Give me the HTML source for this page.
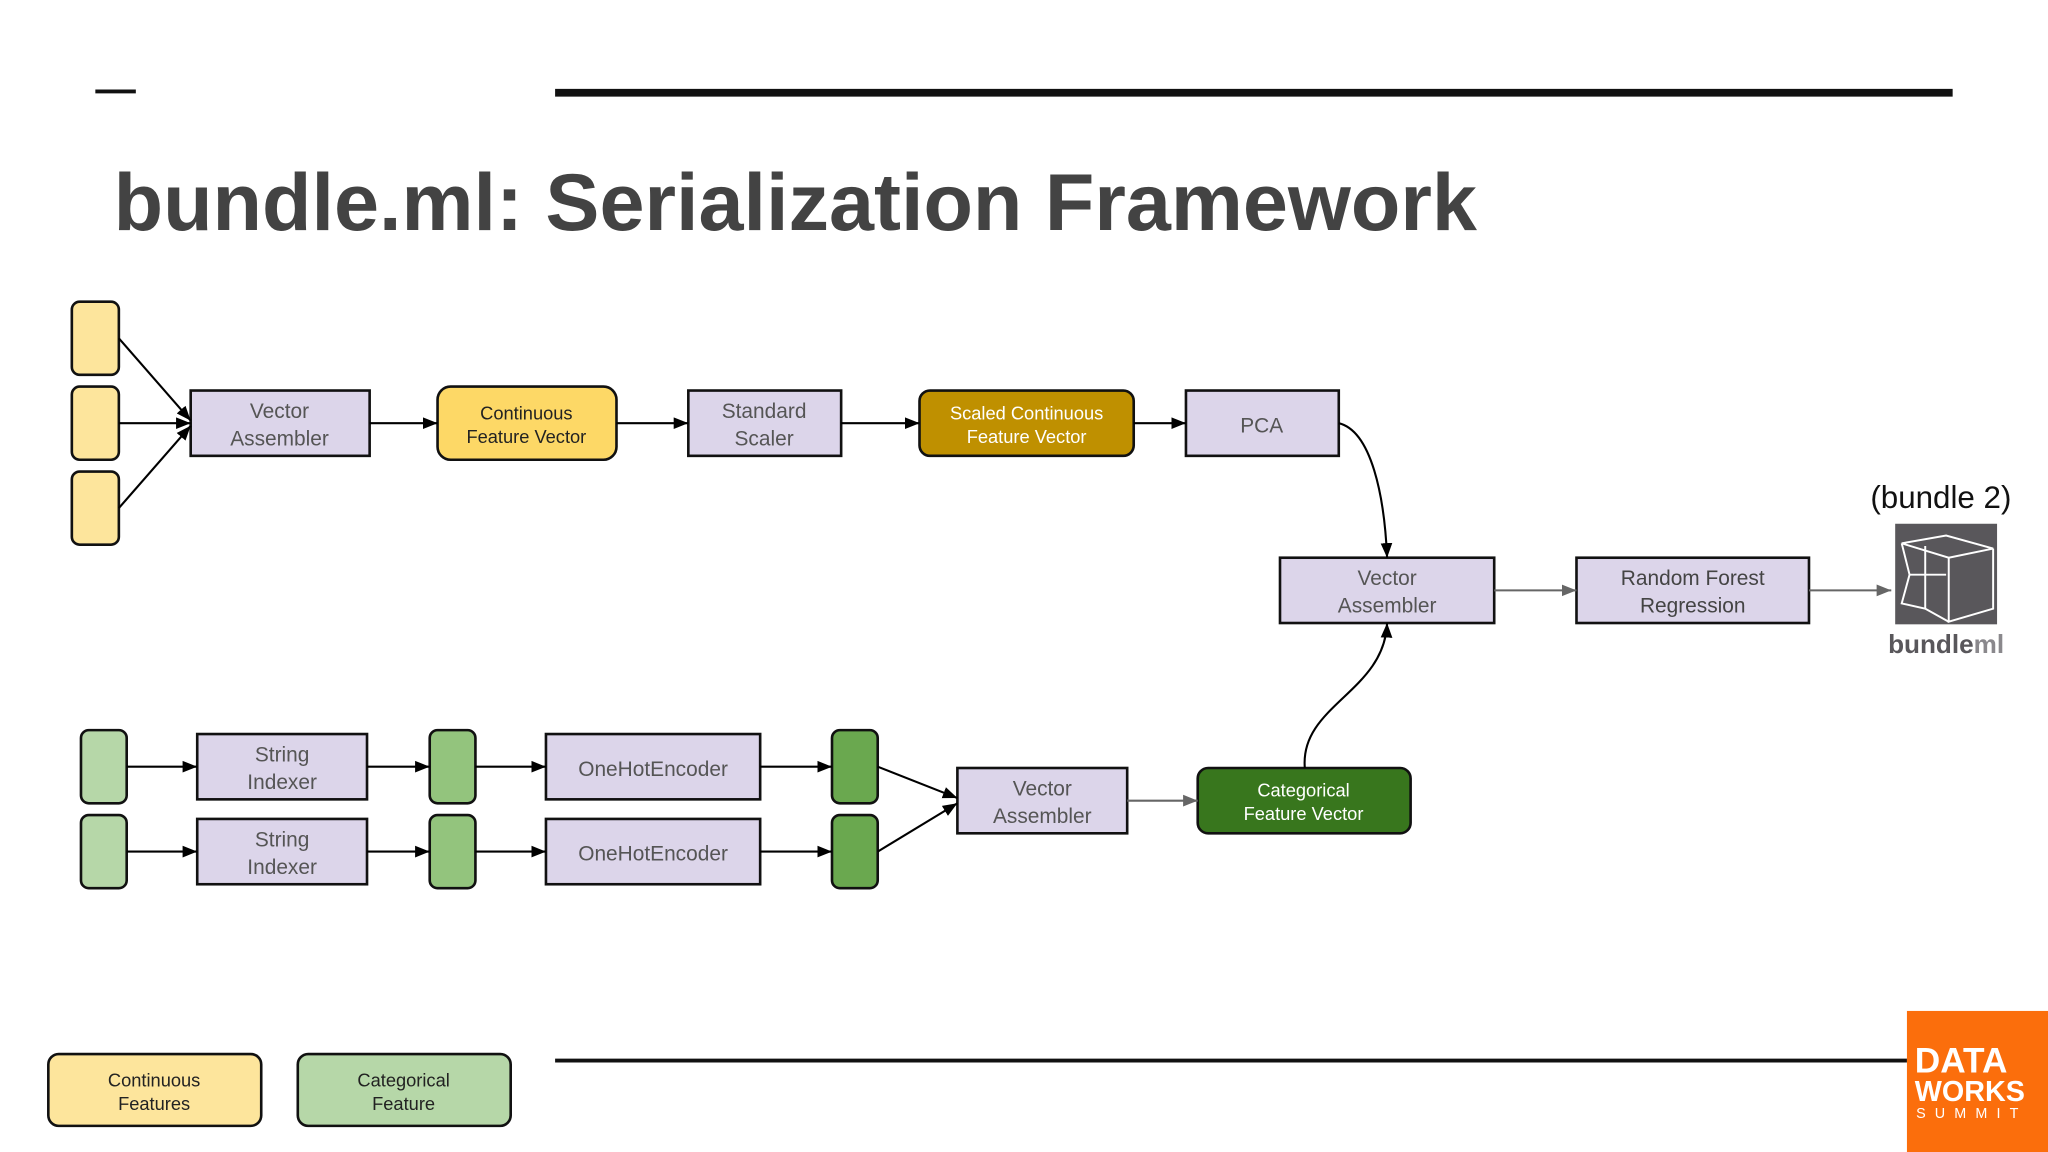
<!DOCTYPE html>
<html><head><meta charset="utf-8"><style>
html,body{margin:0;padding:0;background:#fff;}
svg{display:block;}
text{font-family:"Liberation Sans",sans-serif;}
</style></head><body>
<svg width="2048" height="1152" viewBox="0 0 1568 882" xmlns="http://www.w3.org/2000/svg">
<defs>
<marker id="a" viewBox="0 0 10 10" refX="10" refY="5" markerWidth="7" markerHeight="7" orient="auto"><path d="M0,1 L10,5 L0,9 z" fill="#000"/></marker>
<marker id="g" viewBox="0 0 10 10" refX="10" refY="5" markerWidth="7" markerHeight="7" orient="auto"><path d="M0,1 L10,5 L0,9 z" fill="#666"/></marker>
</defs>
<rect width="1568" height="882" fill="#fff"/>
<line x1="73" y1="70" x2="104" y2="70" stroke="#111" stroke-width="3"/>
<line x1="425" y1="71" x2="1495" y2="71" stroke="#111" stroke-width="6"/>
<text x="87" y="176" font-size="62" font-weight="bold" fill="#434343">bundle.ml: Serialization Framework</text>

<g stroke="#111" stroke-width="2">
<rect x="55" y="231" width="36" height="56" rx="6" fill="#fde59c"/>
<rect x="55" y="296" width="36" height="56" rx="6" fill="#fde59c"/>
<rect x="55" y="361" width="36" height="56" rx="6" fill="#fde59c"/>
<rect x="146" y="299" width="137" height="50" fill="#dcd5ea"/>
<rect x="335" y="296" width="137" height="56" rx="10" fill="#fdd866"/>
<rect x="527" y="299" width="117" height="50" fill="#dcd5ea"/>
<rect x="704" y="299" width="164" height="50" rx="8" fill="#bf9000"/>
<rect x="908" y="299" width="117" height="50" fill="#dcd5ea"/>
<rect x="980" y="427" width="164" height="50" fill="#dcd5ea"/>
<rect x="1207" y="427" width="178" height="50" fill="#dcd5ea"/>

<rect x="62" y="559" width="35" height="56" rx="6" fill="#b6d7a8"/>
<rect x="62" y="624" width="35" height="56" rx="6" fill="#b6d7a8"/>
<rect x="151" y="562" width="130" height="50" fill="#dcd5ea"/>
<rect x="151" y="627" width="130" height="50" fill="#dcd5ea"/>
<rect x="329" y="559" width="35" height="56" rx="6" fill="#93c47d"/>
<rect x="329" y="624" width="35" height="56" rx="6" fill="#93c47d"/>
<rect x="418" y="562" width="164" height="50" fill="#dcd5ea"/>
<rect x="418" y="627" width="164" height="50" fill="#dcd5ea"/>
<rect x="637" y="559" width="35" height="56" rx="6" fill="#6aa84f"/>
<rect x="637" y="624" width="35" height="56" rx="6" fill="#6aa84f"/>
<rect x="733" y="588" width="130" height="50" fill="#dcd5ea"/>
<rect x="917" y="588" width="163" height="50" rx="8" fill="#38761d"/>

<rect x="37" y="807" width="163" height="55" rx="8" fill="#fde59c"/>
<rect x="228" y="807" width="163" height="55" rx="8" fill="#b6d7a8"/>
</g>

<g stroke="#000" stroke-width="1.6" fill="none" marker-end="url(#a)">
<line x1="91" y1="259" x2="146" y2="322"/>
<line x1="91" y1="324" x2="146" y2="324"/>
<line x1="91" y1="389" x2="146" y2="326"/>
<line x1="283" y1="324" x2="335" y2="324"/>
<line x1="472" y1="324" x2="527" y2="324"/>
<line x1="644" y1="324" x2="704" y2="324"/>
<line x1="868" y1="324" x2="908" y2="324"/>
<path d="M1025,324 C1050,330 1060,380 1062,427"/>
<line x1="97" y1="587" x2="151" y2="587"/>
<line x1="97" y1="652" x2="151" y2="652"/>
<line x1="281" y1="587" x2="329" y2="587"/>
<line x1="281" y1="652" x2="329" y2="652"/>
<line x1="364" y1="587" x2="418" y2="587"/>
<line x1="364" y1="652" x2="418" y2="652"/>
<line x1="582" y1="587" x2="637" y2="587"/>
<line x1="582" y1="652" x2="637" y2="652"/>
<line x1="672" y1="587" x2="733" y2="611"/>
<line x1="672" y1="652" x2="733" y2="615"/>
<path d="M999,588 C995,540 1060,530 1062,477"/>
</g>
<g stroke="#666" stroke-width="1.6" fill="none" marker-end="url(#g)">
<line x1="863" y1="613" x2="917" y2="613"/>
<line x1="1144" y1="452" x2="1207" y2="452"/>
<line x1="1385" y1="452" x2="1448" y2="452"/>
</g>

<g font-size="16" fill="#555" text-anchor="middle">
<text x="214" y="320">Vector</text><text x="214" y="341">Assembler</text>
<text x="585" y="320">Standard</text><text x="585" y="341">Scaler</text>
<text x="966" y="331">PCA</text>
<text x="1062" y="448">Vector</text><text x="1062" y="469">Assembler</text>
<text x="1296" y="448" fill="#444">Random Forest</text><text x="1296" y="469" fill="#444">Regression</text>
<text x="216" y="583">String</text><text x="216" y="604">Indexer</text>
<text x="216" y="648">String</text><text x="216" y="669">Indexer</text>
<text x="500" y="594">OneHotEncoder</text>
<text x="500" y="659">OneHotEncoder</text>
<text x="798" y="609">Vector</text><text x="798" y="630">Assembler</text>
</g>
<g font-size="14" text-anchor="middle">
<text x="403" y="321" fill="#222">Continuous</text><text x="403" y="339" fill="#222">Feature Vector</text>
<text x="786" y="321" fill="#fff">Scaled Continuous</text><text x="786" y="339" fill="#fff">Feature Vector</text>
<text x="998" y="610" fill="#fff">Categorical</text><text x="998" y="628" fill="#fff">Feature Vector</text>
<text x="118" y="832" fill="#222">Continuous</text><text x="118" y="850" fill="#222">Features</text>
<text x="309" y="832" fill="#222">Categorical</text><text x="309" y="850" fill="#222">Feature</text>
</g>

<text x="1486" y="389" font-size="24" text-anchor="middle" fill="#111">(bundle 2)</text>
<rect x="1451" y="401" width="78" height="77" fill="#59575b"/>
<g stroke="#fff" stroke-width="1.5" fill="none">
<path d="M1456,416 L1490,410 L1526,420 L1492,427 Z"/>
<path d="M1492,427 L1492,476 L1526,466 L1526,420"/>
<path d="M1456,416 L1462,440 L1456,462 L1474,466 L1492,476"/>
<path d="M1474,418 L1474,466 M1462,440 L1490,440"/>
</g>
<text x="1490" y="500" font-size="20" font-weight="bold" text-anchor="middle" fill="#59575b">bundle<tspan fill="#8a888c">ml</tspan></text>

<line x1="425" y1="812" x2="1460" y2="812" stroke="#111" stroke-width="3"/>
<rect x="1460" y="774" width="108" height="108" fill="#fb6e0c"/>
<text x="1466" y="821" font-size="27" font-weight="bold" fill="#fff">DATA</text>
<text x="1466" y="843" font-size="22" font-weight="bold" fill="#fff">WORKS</text>
<text x="1467" y="856" font-size="11" fill="#fff" letter-spacing="7">SUMMIT</text>
</svg>
</body></html>
